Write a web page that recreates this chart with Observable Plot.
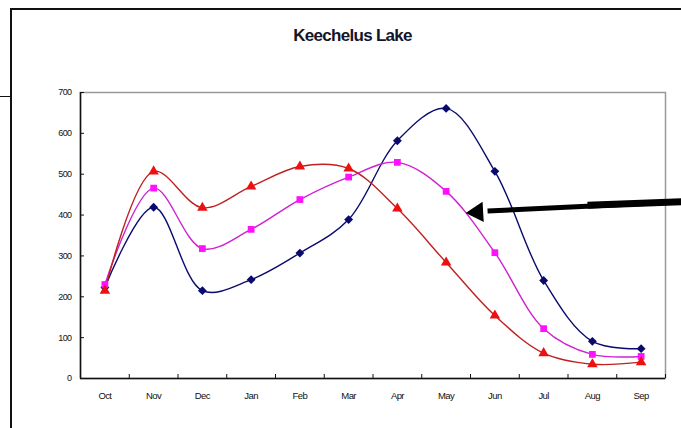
<!DOCTYPE html>
<html>
<head>
<meta charset="utf-8">
<script src="https://cdn.jsdelivr.net/npm/d3@7"></script>
<script src="https://cdn.jsdelivr.net/npm/@observablehq/plot@0.6"></script>
<style>
  html, body { margin: 0; padding: 0; background: #fff; }
  #wrap { position: relative; width: 681px; height: 428px; overflow: hidden; font-family: "Liberation Sans", Arial, sans-serif; }
  #title { position: absolute; left: 0; width: 705px; top: 26px; text-align: center; font-size: 17px; font-weight: bold; letter-spacing: -0.7px; color: #15152a; }
  .b { position: absolute; background: #111; }
  #chart { position: absolute; left: 0; top: 0; }
</style>
</head>
<body>
<div id="wrap">
  <div class="b" style="left:10px;top:8px;width:671px;height:2px"></div>
  <div class="b" style="left:10px;top:8px;width:2px;height:420px"></div>
  <div class="b" style="left:0px;top:96px;width:10px;height:1px"></div>
  <div id="title">Keechelus Lake</div>
  <div id="chart"></div>
</div>
<script>
const months = ["Oct","Nov","Dec","Jan","Feb","Mar","Apr","May","Jun","Jul","Aug","Sep"];
const blueValues = [223, 419, 215, 242, 307, 389, 582, 661, 507, 240, 91, 73];
const pinkValues = [230, 466, 318, 365, 438, 493, 529, 458, 308, 122, 59, 54];
const redValues  = [215, 507, 418, 470, 519, 514, 416, 284, 154, 62, 35, 40];
const yTicks = [0, 100, 200, 300, 400, 500, 600, 700];
// annotation arrow (in chart units: month index, value)
const arrowShaft = [{x1: 11.85, y1: 433, x2: 7.85, y2: 410, w: 5}, {x1: 11.85, y1: 433, x2: 9.9, y2: 424, w: 7}];
const arrowHead = [{x: 7.64, y: 407}];

const seriesDefs = [
  {name: "blue", values: blueValues, line: "#0a0a6e", fill: "#0a0a6e", symbol: "diamond2", r: 4},
  {name: "pink", values: pinkValues, line: "#d020d0", fill: "#ff10ff", symbol: "square", r: 3.8},
  {name: "red",  values: redValues,  line: "#c02020", fill: "#ee1010", symbol: "triangle", r: 3.9}
];

const marks = [
  Plot.frame({stroke: "#999", strokeWidth: 1.5}),
  Plot.ruleX([-0.5], {stroke: "#111", strokeWidth: 1.5}),
  Plot.ruleY([0], {stroke: "#111", strokeWidth: 1.5}),
  Plot.axisY({ticks: yTicks, tickSize: 0, tickPadding: 9, fontSize: 9, tickFormat: d => d}),
  Plot.axisY({ticks: yTicks, tickSize: -4, tickFormat: () => "", stroke: "#111"}),
  Plot.axisX({ticks: d3.range(months.length), tickSize: 0, tickPadding: 14, fontSize: 9.5, tickFormat: i => months[i]}),
  Plot.axisX({ticks: d3.range(months.length + 1).map(k => k - 0.5), tickSize: -4, tickFormat: () => "", stroke: "#111"})
];

for (const s of seriesDefs) {
  const rows = s.values.map((v, i) => ({i, v}));
  marks.push(Plot.line(rows, {x: "i", y: "v", curve: "catmull-rom", stroke: s.line, strokeWidth: 1.4}));
}
for (const s of seriesDefs) {
  const rows = s.values.map((v, i) => ({i, v}));
  marks.push(Plot.dot(rows, {x: "i", y: "v", symbol: () => s.symbol, fill: s.fill, stroke: "none", r: s.r}));
}
marks.push(Plot.link(arrowShaft, {x1: "x1", y1: "y1", x2: "x2", y2: "y2", stroke: "#000", strokeWidth: "w", strokeLinecap: "butt", clip: false}));
marks.push(Plot.dot(arrowHead, {x: "x", y: "y", symbol: "triangle", r: 7.5, fill: "#000", stroke: "none", rotate: -93.5}));

const chart = Plot.plot({
  width: 681,
  height: 428,
  marginLeft: 80,
  marginRight: 16,
  marginTop: 92,
  marginBottom: 50,
  style: {fontFamily: "'Liberation Sans', Arial, sans-serif", background: "transparent", color: "#111", letterSpacing: "-0.6px"},
  x: {type: "linear", domain: [-0.5, 11.5]},
  y: {domain: [0, 700]},
  symbol: {type: "identity"},
  marks
});
document.getElementById("chart").appendChild(chart);
</script>
</body>
</html>
